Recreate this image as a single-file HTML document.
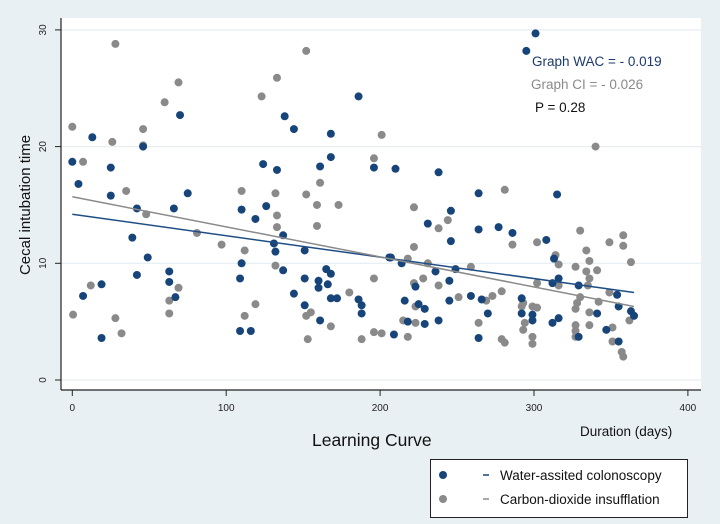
<!DOCTYPE html>
<html><head><meta charset="utf-8"><style>
html,body{margin:0;padding:0;background:#e9f0f3;}
svg{display:block;font-family:"Liberation Sans",sans-serif;}
</style></head><body>
<svg id="chart" width="720" height="524" viewBox="0 0 720 524">
<rect x="0" y="0" width="720" height="524" fill="#e9f0f3"/>
<rect x="61" y="18" width="640" height="372" fill="#ffffff"/>
<g id="grid"></g><g id="axes"></g><g id="lines"></g><g id="points"></g>
<text x="532" y="66" font-size="13.5" fill="#1c3a6b">Graph WAC = - 0.019</text>
<text x="531" y="89" font-size="13.5" fill="#8a8a8a">Graph CI = - 0.026</text>
<text x="535" y="112" font-size="13.5" fill="#111">P = 0.28</text>
<text x="30" y="205" font-size="15" fill="#111" text-anchor="middle" transform="rotate(-90 30 205)">Cecal intubation time</text>
<text x="312" y="446" font-size="17.5" fill="#111">Learning Curve</text>
<text x="580" y="436" font-size="13.5" fill="#111">Duration (days)</text>
<g>
<rect x="430.5" y="459.5" width="257" height="58" fill="#fff" stroke="#222" stroke-width="1"/>
<circle cx="443" cy="475" r="4" fill="#17457a"/>
<line x1="483" y1="475" x2="489" y2="475" stroke="#17457a" stroke-width="1.5"/>
<text x="500" y="480" font-size="13.5" fill="#111">Water-assited colonoscopy</text>
<circle cx="443" cy="499" r="4" fill="#8a8a8a"/>
<line x1="483" y1="499" x2="489" y2="499" stroke="#8a8a8a" stroke-width="1.5"/>
<text x="500" y="504" font-size="13.5" fill="#111">Carbon-dioxide insufflation</text>
</g>
</svg>
<script>
const xTicks=[0,100,200,300,400];
const yTicks=[0,10,20,30];
const wacX=[0,4,13,7,19,19,25,25,42,39,49,42,46,70,66,75,63,63,67,109,116,109,110,110,119,126,124,133,138,144,137,131,132,137,144,151,151,151,161,168,168,161,160,160,166,165,168,168,172,186,186,188,188,196,206,301,295,210,238,264,315,246,231,264,277,286,308,246,207,214,236,249,245,223,216,225,229,245,259,266,270,218,229,238,209,264,292,292,299,299,312,316,313,316,312,329,341,354,355,363,365,347,355,329];
const wacY=[18.7,16.8,20.8,7.2,8.2,3.6,18.2,15.8,14.7,12.2,10.5,9.0,20.0,22.7,14.7,16.0,9.3,8.4,7.1,4.2,4.2,8.7,10.0,14.6,13.8,14.9,18.5,18.0,22.6,21.5,12.4,11.7,11.0,9.4,7.4,8.7,6.4,11.1,18.3,19.1,21.1,5.1,8.5,7.9,8.2,9.5,9.1,7.0,7.0,24.3,6.9,6.4,5.7,18.2,10.5,29.7,28.2,18.1,17.8,16.0,15.9,14.5,13.4,12.9,13.1,12.6,12.0,11.9,10.5,10.0,9.3,9.5,8.5,8.0,6.8,6.5,6.1,6.8,7.2,6.9,5.7,5.0,4.8,5.1,3.9,3.6,7.0,5.7,5.6,5.1,4.9,5.3,10.4,8.7,8.3,8.1,5.7,7.3,6.3,5.9,5.5,4.3,3.3,3.7];
const ciX=[0,28,60,69,46,26,46,7,35,48,81,97,112,110,123,133,152,132,133,133,132,152,159,161,159,173,201,196,196,12,0.5,28,32,69,63,63,119,112,153,152,155,168,180,188,196,201,340,281,222,244,238,222,330,302,286,349,358,358,334,336,341,363,218,231,259,314,316,327,334,336,335,228,222,238,302,316,279,273,269,251,223,293,299,302,292,330,328,327,342,336,349,215,223,264,294,336,327,327,362,218,279,281,293,299,299,327,351,351,357,358];
const ciY=[21.7,28.8,23.8,25.5,21.5,20.4,20.1,18.7,16.2,14.2,12.6,11.6,11.1,16.2,24.3,25.9,28.2,16.0,14.1,13.1,9.8,15.9,15.0,16.9,13.2,15.0,21.0,19.0,8.7,8.1,5.6,5.3,4.0,7.9,6.8,5.7,6.5,5.5,3.5,5.5,5.8,4.6,7.5,3.5,4.1,4.0,20.0,16.3,14.8,13.7,13.0,11.4,12.8,11.8,11.6,11.8,12.4,11.5,11.1,10.2,9.4,10.1,10.4,10.0,9.7,10.7,9.9,9.7,9.3,8.7,8.1,8.7,8.3,8.1,8.3,8.1,7.6,7.2,6.8,7.1,6.3,6.6,6.3,6.2,6.3,7.1,6.6,6.1,6.7,5.8,7.5,5.1,4.9,4.9,4.9,4.7,4.7,4.2,5.1,3.7,3.5,3.2,4.3,3.7,3.1,3.7,3.3,4.5,2.4,2.0];
const fitX=[0,365];
const wacFitY=[14.2,7.5];
const ciFitY=[15.7,6.3];

const NS='http://www.w3.org/2000/svg';
const X0=72.3,XS=1.539,Y0=380,YS=11.67;
function sx(v){return X0+v*XS;}
function sy(v){return Y0-v*YS;}
function mk(tag,attrs,parent){const e=document.createElementNS(NS,tag);for(const k in attrs)e.setAttribute(k,attrs[k]);parent.appendChild(e);return e;}
const grid=document.getElementById('grid'),axes=document.getElementById('axes'),lines=document.getElementById('lines'),pts=document.getElementById('points');
yTicks.forEach(t=>{
  const g=mk('line',{x1:61,x2:701,y1:sy(t),y2:sy(t),stroke:'#e6eef2','stroke-width':1.2},grid);
  
  
  const tk=mk('line',{x1:55,x2:61,y1:sy(t),y2:sy(t),stroke:'#222','stroke-width':1},axes);
  
  
  const lb=mk('text',{x:46,y:sy(t),'font-size':10,fill:'#222','text-anchor':'middle',transform:'rotate(-90 46 '+sy(t)+')'},axes);
  lb.textContent=t;
  
  
});
xTicks.forEach(t=>{
  const tk=mk('line',{x1:sx(t),x2:sx(t),y1:390,y2:396,stroke:'#222','stroke-width':1},axes);
  
  
  const lb=mk('text',{x:sx(t),y:411,'font-size':10,fill:'#222','text-anchor':'middle'},axes);
  lb.textContent=t;
  
  
});
const ya=mk('line',{x1:61,x2:61,y1:18,y2:390,stroke:'#222','stroke-width':1.2},axes);


const xa=mk('line',{x1:61,x2:701,y1:390,y2:390,stroke:'#222','stroke-width':1.2},axes);


ciX.forEach((v,i)=>{
  const c=mk('circle',{cx:sx(v),cy:sy(ciY[i]),r:4,fill:'#8a8a8a'},pts);
  
  
});
wacX.forEach((v,i)=>{
  const c=mk('circle',{cx:sx(v),cy:sy(wacY[i]),r:4,fill:'#17457a'},pts);
  
  
});
const l1=mk('line',{x1:sx(fitX[0]),y1:sy(wacFitY[0]),x2:sx(fitX[1]),y2:sy(wacFitY[1]),stroke:'#1f4e85','stroke-width':1.5},lines);


const l2=mk('line',{x1:sx(fitX[0]),y1:sy(ciFitY[0]),x2:sx(fitX[1]),y2:sy(ciFitY[1]),stroke:'#8a8a8a','stroke-width':1.5},lines);


pts.parentNode.appendChild(lines);
</script>
</body></html>
